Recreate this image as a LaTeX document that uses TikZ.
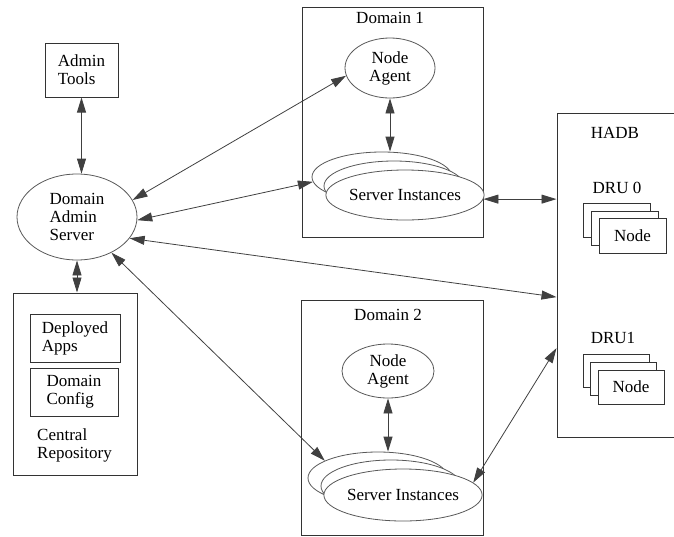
\documentclass[tikz,border=0pt]{standalone}
\usepackage{fontspec}
\setmainfont{Liberation Serif}
\usetikzlibrary{arrows.meta,shapes.geometric,calc}
\begin{document}
\begin{tikzpicture}[x=1pt,y=-1pt,
  font=\fontsize{17}{18}\selectfont,
  box/.style={draw=black!80,line width=1pt,rectangle,inner sep=0pt,fill=white},
  oval/.style={draw=black!65,line width=0.8pt,ellipse,inner sep=0pt,fill=white},
  lbl/.style={inner sep=0pt,align=left},
  conn/.style={draw=black!75,line width=0.8pt,{Triangle[length=15pt,width=9pt]}-{Triangle[length=15pt,width=9pt]}}]
\useasboundingbox (0,0) rectangle (674,536);

% Admin tools
\node[box,minimum width=73pt,minimum height=54pt,align=left] (at) at (81.5,70) {Admin\\Tools};
% Domain Admin Server
\node[oval,minimum width=120pt,minimum height=86pt,align=left] (das) at (77,217) {Domain\\Admin\\Server};
% Central Repository
\node[box,minimum width=124pt,minimum height=182pt] (cr) at (75,384) {};
\node[box,minimum width=90pt,minimum height=48pt,align=left] (dep) at (75,338) {Deployed\\Apps};
\node[box,minimum width=88pt,minimum height=48pt,align=left] (dcf) at (74,392) {Domain\\Config};
\node[lbl,anchor=west] (crt) at (37,445) {Central\\Repository};

% Domain 1
\node[box,minimum width=181pt,minimum height=230pt] (d1) at (392.5,122) {};
\node[lbl] (d1t) at (390,18) {Domain 1};
\node[oval,minimum width=90pt,minimum height=60pt,align=center] (na1) at (390,68) {Node\\Agent};
\node[oval,minimum width=140pt,minimum height=50pt] (siB1) at (382,177) {};
\node[oval,minimum width=140pt,minimum height=50pt] (siM1) at (394,186) {};
\node[oval,minimum width=140pt,minimum height=50pt] (siF1) at (405,195) {Server Instances};

% Domain 2
\node[box,minimum width=182pt,minimum height=235pt] (d2) at (392,417.5) {};
\node[lbl] (d2t) at (388,315) {Domain 2};
\node[oval,minimum width=92pt,minimum height=54pt,align=center] (na2) at (388,371) {Node\\Agent};
\node[oval,minimum width=140pt,minimum height=52pt] (siB2) at (378,478) {};
\node[oval,minimum width=140pt,minimum height=52pt] (siM2) at (391,486) {};
\node[oval,minimum width=140pt,minimum height=52pt] (siF2) at (403,495) {Server Instances};

% HADB
\node[box,minimum width=130pt,minimum height=324pt] (hadb) at (622,275) {};
\node[lbl] (hadbt) at (615,133) {HADB};
\node[lbl] (dru0) at (617,188) {DRU 0};
\node[box,minimum width=67pt,minimum height=34pt] (n0a) at (616.5,220) {};
\node[box,minimum width=67pt,minimum height=34pt] (n0b) at (624.5,228) {};
\node[box,minimum width=67pt,minimum height=35pt] (n0c) at (632.5,235.5) {Node};
\node[lbl] (dru1) at (613,338) {DRU1};
\node[box,minimum width=66pt,minimum height=33pt] (n1a) at (616,370.5) {};
\node[box,minimum width=66pt,minimum height=33pt] (n1b) at (623,378.5) {};
\node[box,minimum width=66pt,minimum height=34pt] (n1c) at (631,387) {Node};

\coordinate (h1) at ($(hadb.north west)!0.262!(hadb.south west)$);
\coordinate (h2) at ($(hadb.north west)!0.568!(hadb.south west)$);
\coordinate (h3) at ($(hadb.north west)!0.725!(hadb.south west)$);

% connectors
\draw[conn] (at.south) -- (at.south |- das.north);
\draw[conn] (das.south) -- (das.south |- cr.north);
\draw[conn] (das.17) -- (na1.190);
\draw[conn] (das.-3) -- (siB1.184);
\draw[conn] (das.-22.5) -- (h2);
\draw[conn] (das.-46.5) -- (siB2.162);
\draw[conn] (na1.south) -- (na1.south |- siB1.north);
\draw[conn] (na2.south) -- (na2.south |- siB2.north);
\draw[conn] (siF1.-3) -- (siF1.-3 -| h1);
\draw[conn] (siF2.10) -- (h3);
\end{tikzpicture}
\end{document}
